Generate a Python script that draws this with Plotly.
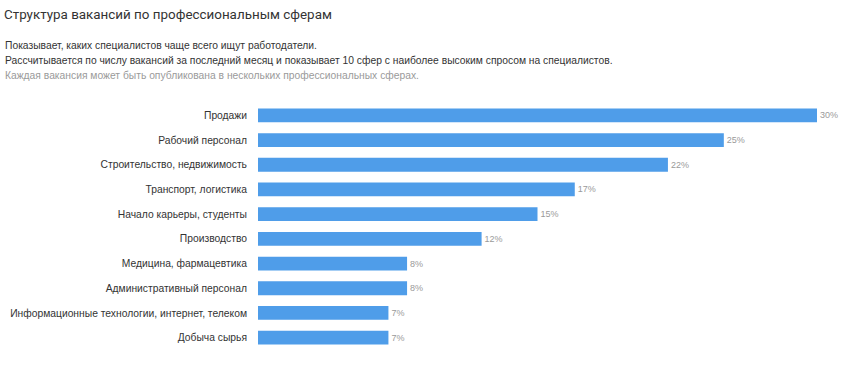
import plotly.graph_objects as go

categories = [
    "Продажи",
    "Рабочий персонал",
    "Строительство, недвижимость",
    "Транспорт, логистика",
    "Начало карьеры, студенты",
    "Производство",
    "Медицина, фармацевтика",
    "Административный персонал",
    "Информационные технологии, интернет, телеком",
    "Добыча сырья",
]
values = [30, 25, 22, 17, 15, 12, 8, 8, 7, 7]
value_labels = [f"{v}%" for v in values]

title_text = "Структура вакансий по профессиональным сферам"
subtitle_lines = [
    ("Показывает, каких специалистов чаще всего ищут работодатели.", "#333333"),
    ("Рассчитывается по числу вакансий за последний месяц и показывает 10 сфер с наиболее высоким спросом на специалистов.", "#333333"),
    ("Каждая вакансия может быть опубликована в нескольких профессиональных сферах.", "#9a9a9a"),
]

W, H = 847, 370
ml, mr, mt, mb = 258, 30, 103, 20
pw = W - ml - mr
ph = H - mt - mb
FONT = "Liberation Sans, Arial, sans-serif"

fig = go.Figure(go.Bar(
    x=values,
    y=categories,
    orientation="h",
    marker=dict(color="#4f9de9", line=dict(width=0)),
    width=0.56,
    text=value_labels,
    textposition="outside",
    textfont=dict(color="#9a9a9a", size=9, family=FONT),
    cliponaxis=False,
    hoverinfo="skip",
))

annotations = []
for i, (line, color) in enumerate(subtitle_lines):
    ypix = 45 + i * 15
    annotations.append(dict(
        xref="paper", yref="paper",
        x=(3 - ml) / pw, y=(H - mb - ypix) / ph,
        xanchor="left", yanchor="middle",
        text=line, showarrow=False,
        font=dict(size=10.3, color=color, family=FONT),
    ))

fig.update_layout(
    width=W, height=H,
    margin=dict(l=ml, r=mr, t=mt, b=mb, autoexpand=False),
    paper_bgcolor="white", plot_bgcolor="white",
    showlegend=False,
    title=dict(
        text=title_text, xref="container", yref="container",
        x=4 / W, y=1 - 14 / H, xanchor="left", yanchor="middle",
        font=dict(size=13.4, color="#333333", family="Roboto, Liberation Sans, Arial, sans-serif"),
    ),
    annotations=annotations,
    xaxis=dict(range=[0, 30], visible=False, fixedrange=True),
    yaxis=dict(
        autorange="reversed", automargin=False, fixedrange=True,
        showgrid=False, zeroline=False, showline=False, ticks="",
        ticklabelstandoff=10,
        tickfont=dict(size=10.3, color="#333333", family=FONT),
    ),
)

fig.write_html(
    "out.html",
    config={"displayModeBar": False},
    post_script="document.body.style.margin='0';document.body.style.padding='0';",
)
